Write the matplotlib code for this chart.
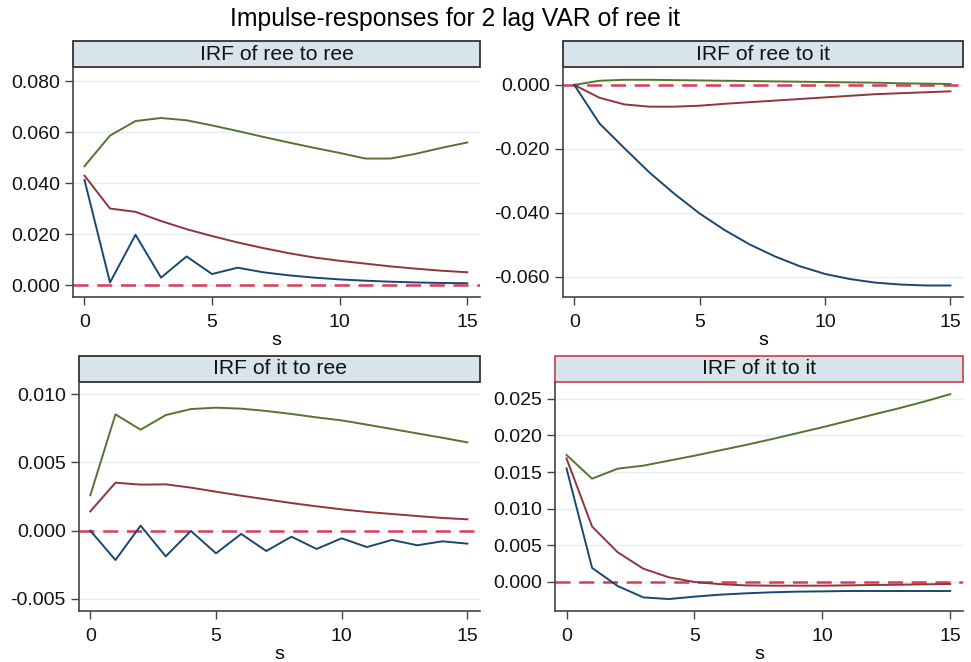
import matplotlib.pyplot as plt
import matplotlib.patches as mpatches
import numpy as np

plt.rcParams['font.family'] = ['Liberation Sans', 'DejaVu Sans']

steps = np.arange(16)

# IRF of ree to ree
ree_ree_upper = [0.0466, 0.0586, 0.0643, 0.0655, 0.0646, 0.0626, 0.0604, 0.0581,
                 0.0559, 0.0538, 0.0518, 0.0496, 0.0496, 0.0515, 0.0538, 0.0559]
ree_ree_irf = [0.0429, 0.0300, 0.0287, 0.0251, 0.0219, 0.0192, 0.0167, 0.0145,
               0.0125, 0.0108, 0.0095, 0.0084, 0.0073, 0.0064, 0.0056, 0.0050]
ree_ree_lower = [0.0412, 0.0010, 0.0197, 0.0029, 0.0112, 0.0043, 0.0068, 0.0050,
                 0.0038, 0.0029, 0.0022, 0.0017, 0.0013, 0.0010, 0.0008, 0.0007]

# IRF of ree to it
ree_it_upper = [0.0, 0.0013, 0.0016, 0.0016, 0.0015, 0.0014, 0.0013, 0.0012,
                0.0011, 0.0010, 0.0009, 0.0008, 0.0007, 0.0005, 0.0004, 0.0003]
ree_it_irf = [0.0, -0.0040, -0.0061, -0.0068, -0.0068, -0.0065, -0.0059, -0.0054,
              -0.0049, -0.0044, -0.0039, -0.0034, -0.0029, -0.0026, -0.0023, -0.0020]
ree_it_lower = [0.0, -0.0120, -0.0198, -0.0274, -0.0341, -0.0402, -0.0454, -0.0499,
                -0.0536, -0.0567, -0.0591, -0.0607, -0.0618, -0.0624, -0.0627, -0.0627]

# IRF of it to ree
it_ree_upper = [0.00259, 0.00851, 0.00739, 0.00846, 0.00890, 0.00900, 0.00893, 0.00876,
                0.00854, 0.00829, 0.00807, 0.00776, 0.00744, 0.00712, 0.00680, 0.00646]
it_ree_irf = [0.00141, 0.00351, 0.00337, 0.00339, 0.00315, 0.00285, 0.00256, 0.00229,
              0.00202, 0.00178, 0.00156, 0.00137, 0.00122, 0.00107, 0.00093, 0.00083]
it_ree_lower = [0.0, -0.00215, 0.00037, -0.00188, -0.00002, -0.00166, -0.00024, -0.00149,
                -0.00044, -0.00134, -0.00056, -0.00120, -0.00068, -0.00107, -0.00078, -0.00095]

# IRF of it to it
it_it_upper = [0.01734, 0.01410, 0.01547, 0.01588, 0.01656, 0.01724, 0.01797, 0.01870,
               0.01948, 0.02030, 0.02112, 0.02199, 0.02286, 0.02372, 0.02464, 0.02564]
it_it_irf = [0.01688, 0.00757, 0.00406, 0.00182, 0.00064, 0.00000, -0.00030, -0.00046,
             -0.00050, -0.00050, -0.00050, -0.00046, -0.00041, -0.00037, -0.00032, -0.00027]
it_it_lower = [0.01551, 0.00192, -0.00055, -0.00210, -0.00233, -0.00200, -0.00173, -0.00155,
               -0.00141, -0.00132, -0.00128, -0.00123, -0.00123, -0.00123, -0.00123, -0.00123]

titles = ['IRF of ree to ree', 'IRF of ree to it', 'IRF of it to ree', 'IRF of it to it']
series = [(ree_ree_upper, ree_ree_irf, ree_ree_lower),
          (ree_it_upper, ree_it_irf, ree_it_lower),
          (it_ree_upper, it_ree_irf, it_ree_lower),
          (it_it_upper, it_it_irf, it_it_lower)]
yticks = [[0.0, 0.02, 0.04, 0.06, 0.08],
          [-0.06, -0.04, -0.02, 0.0],
          [-0.005, 0.0, 0.005, 0.01],
          [0.0, 0.005, 0.01, 0.015, 0.02, 0.025]]
ylims = [(-0.0047, 0.0855), (-0.0663, 0.0056), (-0.00588, 0.01088), (-0.00396, 0.0273)]

# pixel boxes (left, top, right, bottom) of the plot areas
W, H = 971, 662
boxes = [(73, 67, 480, 297), (563, 67, 963, 297), (79, 382, 480, 611), (555, 382, 963, 611)]

green = '#55752f'
maroon = '#90353b'
navy = '#1a476f'
axcol = '#444444'

fig = plt.figure(figsize=(W / 100, H / 100), dpi=100)
fig.text(455 / W, 1 - 19 / H, 'Impulse-responses for 2 lag VAR of ree it',
         ha='center', va='center', fontsize=17.8)

for i, (l, t, r, b) in enumerate(boxes):
    ax = fig.add_axes([l / W, 1 - b / H, (r - l) / W, (b - t) / H])
    up, irf, lo = series[i]
    ax.plot(steps, up, color=green, lw=1.4)
    ax.plot(steps, irf, color=maroon, lw=1.4)
    ax.plot(steps, lo, color=navy, lw=1.4)
    ax.axhline(0, color='#d93a5e', lw=1.8, ls=(0, (6, 3.5)), zorder=1)

    ax.set_xlim(-0.45, 15.5)
    ax.set_ylim(*ylims[i])
    ax.set_xticks([0, 5, 10, 15])
    ax.set_yticks(yticks[i])
    ax.set_yticklabels(['%.3f' % v for v in yticks[i]])
    ax.grid(axis='y', color='#e6eef2', lw=1.0)
    ax.set_axisbelow(True)
    for s in ['top', 'right']:
        ax.spines[s].set_visible(False)
    for s in ['left', 'bottom']:
        ax.spines[s].set_color(axcol)
        ax.spines[s].set_linewidth(1.2)
    ax.tick_params(colors=axcol, labelcolor='#111111', labelsize=14, length=6, width=1.0)
    ax.tick_params(axis='x', pad=6)
    ax.set_xlabel('s', fontsize=14, labelpad=1)

    # header strip
    hh = 26 / (b - t)
    edge = '#d04a50' if i == 3 else '#333333'
    rect = mpatches.Rectangle((0, 1), 1, hh, transform=ax.transAxes, clip_on=False,
                              facecolor='#d7e4eb', edgecolor=edge, lw=1.3)
    ax.add_patch(rect)
    ax.text(0.5, 1 + hh / 2, titles[i], transform=ax.transAxes, ha='center',
            va='center', fontsize=15.2, color='#111111')

plt.savefig('out.png', dpi=100)
